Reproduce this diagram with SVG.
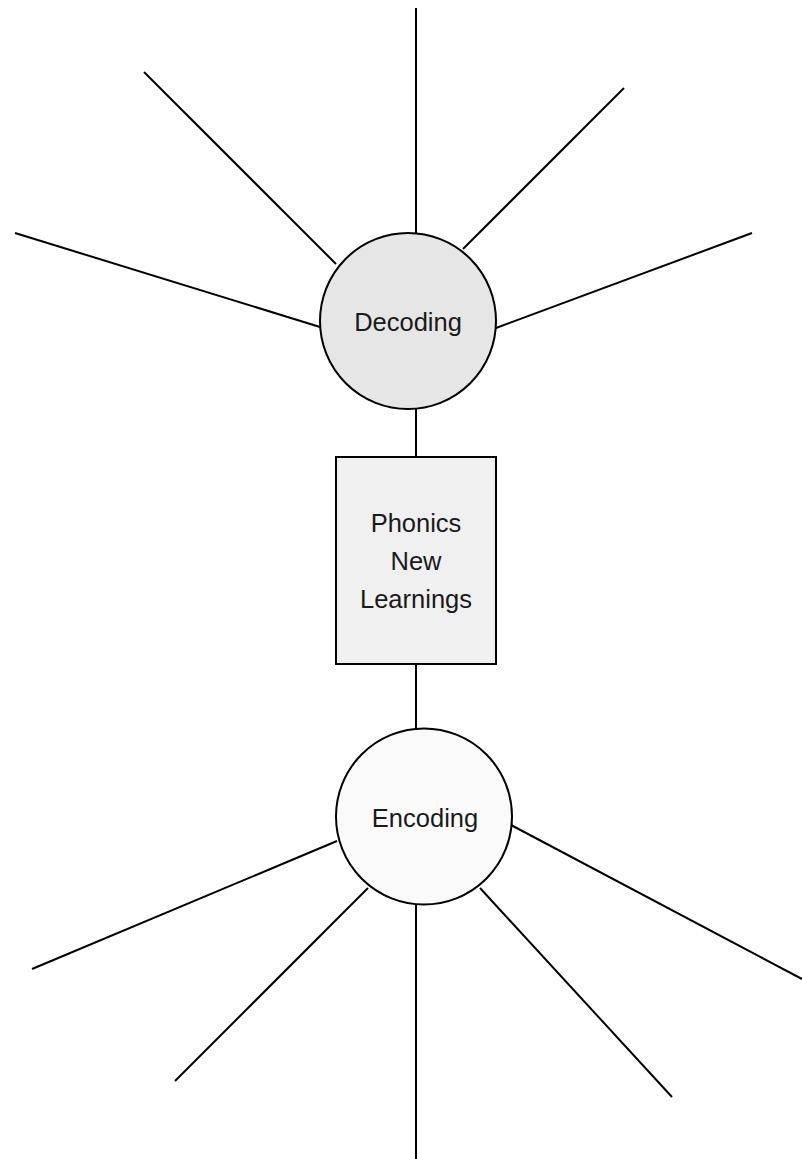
<svg xmlns="http://www.w3.org/2000/svg" width="802" height="1159" viewBox="0 0 802 1159">
<style>
.c{stroke:#000;stroke-width:2;fill:none}
.n{stroke:#000;stroke-width:2}
.t{font-family:"Liberation Sans",Arial,sans-serif;font-size:25.5px;fill:#1a1a1a;text-anchor:middle}
</style>
<rect width="802" height="1159" fill="#fff"/>
<g id="connectors">
<line class="c" x1="416" y1="8" x2="416" y2="234"/>
<line class="c" x1="144" y1="72" x2="336" y2="264"/>
<line class="c" x1="15" y1="233" x2="320" y2="327"/>
<line class="c" x1="624" y1="88" x2="463" y2="249"/>
<line class="c" x1="752" y1="233" x2="496" y2="328"/>
<line class="c" x1="416" y1="409" x2="416" y2="457"/>
<line class="c" x1="416" y1="664" x2="416" y2="729"/>
<line class="c" x1="32" y1="969" x2="337" y2="841"/>
<line class="c" x1="175" y1="1081" x2="368" y2="888"/>
<line class="c" x1="416" y1="904" x2="416" y2="1159"/>
<line class="c" x1="480" y1="888" x2="672" y2="1097"/>
<line class="c" x1="511" y1="825" x2="802" y2="979"/>
</g>
<g id="decoding">
<circle class="n" cx="408" cy="321" r="88" fill="#e6e6e6"/>
<text class="t" x="408" y="331">Decoding</text>
</g>
<g id="phonics">
<rect class="n" x="336" y="457" width="160" height="207" fill="#f0f0f0"/>
<text class="t" x="416" y="532">Phonics</text>
<text class="t" x="416" y="570">New</text>
<text class="t" x="416" y="608">Learnings</text>
</g>
<g id="encoding">
<circle class="n" cx="424" cy="816.5" r="88" fill="#fafafa"/>
<text class="t" x="425" y="827">Encoding</text>
</g>
</svg>
